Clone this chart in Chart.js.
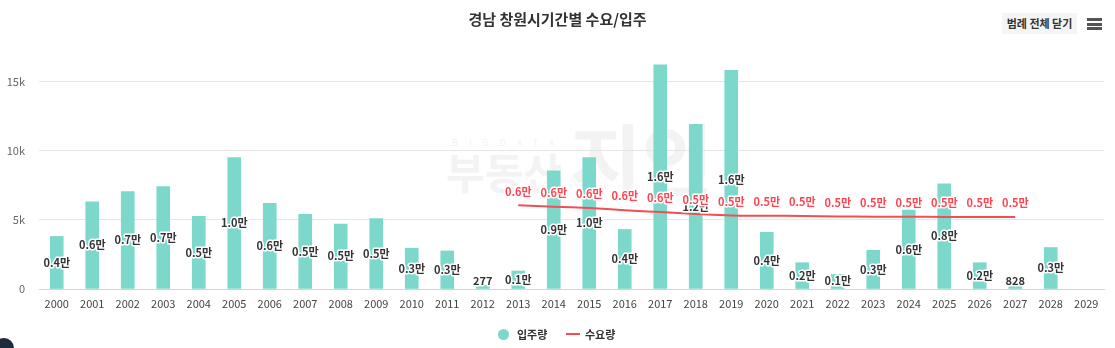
<!DOCTYPE html>
<html>
<head>
<meta charset="utf-8">
<script src="https://cdn.jsdelivr.net/npm/chart.js@4"></script>
<style>
  html, body { margin: 0; padding: 0; background: #fff; }
  body { width: 1115px; height: 348px; position: relative; overflow: hidden; font-family: "Noto Sans CJK KR", "Noto Sans", sans-serif; }
  #wrap { position: absolute; left: 0; top: 0; width: 1115px; height: 348px; }
  .title { position: absolute; left: 0; width: 1115px; top: 8px; text-align: center; font-size: 15px; font-weight: bold; color: #333; }
  .btn { position: absolute; left: 1002px; top: 13px; width: 75px; height: 21px; background: #f5f5f5; font-size: 11px; font-weight: bold; color: #333; text-align: center; line-height: 21px; }
  .menu { position: absolute; left: 1087px; width: 15px; height: 3px; background: #555; }
  .wm { position: absolute; color: #f3f3f3; font-weight: bold; white-space: nowrap; }
  .legend { position: absolute; top: 326px; font-size: 11px; font-weight: bold; color: #333; }
  .dot { position: absolute; left: 498px; top: 329px; width: 11px; height: 11px; border-radius: 50%; background: #7dd8cc; }
  .ln { position: absolute; left: 566px; top: 333px; width: 14px; height: 2px; background: #f24e57; }
  .fab { position: absolute; left: -6px; top: 338px; width: 20px; height: 20px; border-radius: 50%; background: #1f2a3a; }
</style>
</head>
<body>
<div class="wm" style="left:452px; top:136px; font-size:9px; letter-spacing:11px; font-weight:normal;">BIGDATA</div>
<div class="wm" style="left:446px; top:140px; font-size:42px;">부동산</div>
<div class="wm" style="left:570px; top:100px; font-size:78px;">지인</div>
<div id="wrap"><canvas id="chart" width="1115" height="348"></canvas></div>
<div class="title">경남 창원시기간별 수요/입주</div>
<div class="btn">범례 전체 닫기</div>
<div class="menu" style="top:18px"></div>
<div class="menu" style="top:22.5px"></div>
<div class="menu" style="top:27px"></div>
<div class="dot"></div>
<div class="legend" style="left:517px">입주량</div>
<div class="ln"></div>
<div class="legend" style="left:585px">수요량</div>
<div class="fab"></div>
<script>
const years = ["2000","2001","2002","2003","2004","2005","2006","2007","2008","2009",
  "2010","2011","2012","2013","2014","2015","2016","2017","2018","2019",
  "2020","2021","2022","2023","2024","2025","2026","2027","2028","2029"];
const moveIn = [3800, 6300, 7050, 7400, 5250, 9500, 6200, 5400, 4700, 5100,
  2950, 2750, 277, 1300, 8550, 9500, 4300, 16200, 11900, 15800,
  4100, 1900, 1050, 2800, 5700, 7600, 1900, 828, 3000, null];
const demand = [null, null, null, null, null, null, null, null, null, null,
  null, null, null, 6050, 5950, 5850, 5700, 5560, 5430, 5320,
  5300, 5280, 5250, 5230, 5220, 5210, 5200, 5200, null, null];
const yTicks = [0, 5000, 10000, 15000];

function fmt(v) {
  if (v < 1000) return String(v);
  return (Math.round(v / 1000) / 10).toFixed(1) + "만";
}

const labelPlugin = {
  id: "valueLabels",
  afterDatasetsDraw(chart) {
    const c = chart.ctx;
    c.save();
    c.font = "bold 11px 'Noto Sans CJK KR', sans-serif";
    c.textAlign = "center";
    c.textBaseline = "middle";
    c.lineJoin = "round";
    c.lineWidth = 3;
    c.strokeStyle = "#fff";
    chart.getDatasetMeta(0).data.forEach((bar, i) => {
      const v = moveIn[i];
      if (v == null) return;
      const y = Math.min((bar.y + bar.base) / 2, bar.base - 8);
      c.strokeText(fmt(v), bar.x, y);
      c.fillStyle = "#333";
      c.fillText(fmt(v), bar.x, y);
    });
    chart.getDatasetMeta(1).data.forEach((pt, i) => {
      const v = demand[i];
      if (v == null) return;
      c.strokeText(fmt(v), pt.x, pt.y - 14);
      c.fillStyle = "#ff4450";
      c.fillText(fmt(v), pt.x, pt.y - 14);
    });
    c.restore();
  }
};

new Chart(document.getElementById("chart"), {
  type: "bar",
  data: {
    labels: years,
    datasets: [{
      label: "입주량",
      data: moveIn,
      backgroundColor: "#7dd8cc",
      barThickness: 13,
      order: 1
    }, {
      type: "line",
      label: "수요량",
      data: demand,
      borderColor: "#f24e57",
      borderWidth: 2,
      pointRadius: 0,
      tension: 0.3,
      order: 0
    }]
  },
  plugins: [labelPlugin],
  options: {
    responsive: false,
    animation: false,
    events: [],
    layout: { padding: { top: 58, right: 11, bottom: 35, left: 0 } },
    plugins: { legend: { display: false }, title: { display: false }, tooltip: { enabled: false } },
    scales: {
      x: {
        grid: { display: false, drawTicks: false },
        border: { color: "#ccd6eb" },
        ticks: { color: "#444", padding: 8, maxRotation: 0, autoSkip: false,
          font: { size: 11, family: "'Noto Sans CJK KR', sans-serif" } },
        afterFit: s => { s.height = 24; }
      },
      y: {
        min: 0,
        max: 16700,
        afterBuildTicks: s => { s.ticks = yTicks.map(v => ({ value: v })); },
        grid: { color: ctx => ctx.tick && ctx.tick.value === 0 ? "rgba(0,0,0,0)" : "#e6e6e6", drawTicks: false },
        border: { display: false },
        ticks: { color: "#666", padding: 14,
          font: { size: 11, family: "'Noto Sans CJK KR', sans-serif" },
          callback: v => v === 0 ? "0" : (v / 1000) + "k" },
        afterFit: s => { s.width = 39; }
      }
    }
  }
});
</script>
</body>
</html>
